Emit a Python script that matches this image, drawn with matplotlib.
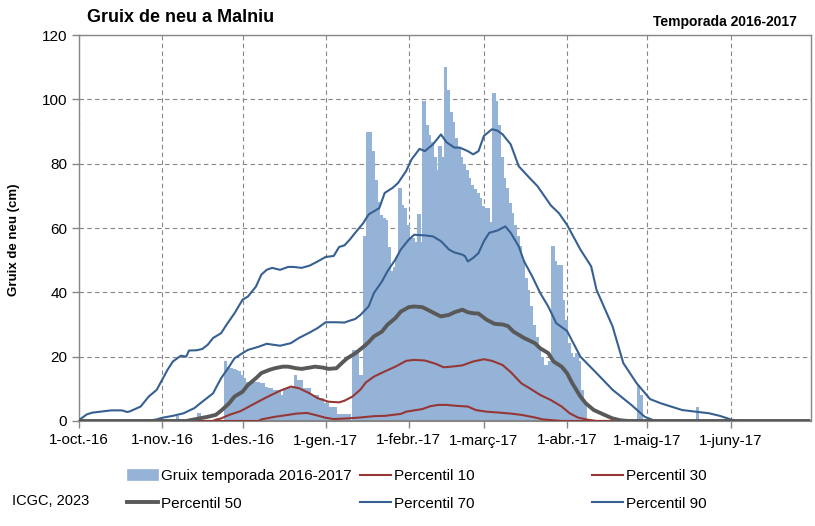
import numpy as np
import pandas as pd
import matplotlib
matplotlib.use('Agg')
import matplotlib.pyplot as plt

plt.rcParams['font.family'] = ['Liberation Sans', 'DejaVu Sans']

START = pd.Timestamp('2016-10-01')

# daily snow depth 2016-2017 (cm), consecutive days from 24 Nov 2016
snow_start = '2016-11-24'
snow_cm = [18.5, 16.9, 16.6, 16.2, 15.9, 15.4, 14.3, 13.3, 12.2, 12.2, 12.2, 12.2, 12.2, 11.7, 11.7,
           10.7, 10.4, 10.4, 9.7, 9.7, 9.7, 8.1, 10.3, 10.3, 10.3, 10.3, 14.3, 12.8, 12.8, 10.4,
           10.4, 10.4, 8.1, 8.1, 8.1, 7.2, 7.2, 5.6, 5.6, 4.5, 4.5, 4.5, 2.2, 2.2, 2.2, 2.2, 2.2, 0,
           22, 22, 14.3, 14.3, 57.5, 90, 90, 84, 75, 68, 64, 63, 62.6, 54, 46.5, 48, 51,
           72.5, 67.3, 66.3, 61, 57, 57, 55.5, 64.2, 55.5,
           99.5, 92, 89, 86.6, 82, 78, 85.5, 82,
           110, 103, 96, 93, 88, 85, 82, 80, 78, 75.6, 73.5, 72, 71, 69.4, 66.8, 66.3, 66.3, 62,
           102, 99.5, 92, 82, 75.6, 72.5, 67.8, 64.7, 61, 57.5, 54.3, 50.2, 44.5, 40.8, 35.6,
           30, 26, 23, 20, 17.4, 17.4, 18.5, 54.3, 49.6, 48.6, 48.6, 37.7, 31.5, 24.2, 21, 20, 21,
           18.5, 9.7, 5.5]
# isolated days outside the main snow period
extra_dates = ['2016-11-06', '2016-11-14', '2017-04-27', '2017-04-28', '2017-05-19']
extra_cm = [1.5, 2.5, 11.2, 8.1, 4.5]

# percentiles (day offset from 1 Oct, cm)
p90_days = [0, 3, 5, 9, 12, 16, 18, 19, 23, 26, 29, 31, 33, 35, 38, 40, 41, 44, 46, 48, 50, 53, 55,
            58, 61, 63, 66, 68, 70, 72, 75, 78, 80, 83, 86, 89, 92, 95, 97, 99, 101, 103, 106, 108,
            110, 112, 114, 117, 119, 122, 124, 127, 129, 132, 135, 137, 140, 142, 145, 147, 149,
            151, 154, 156, 158, 161, 164, 168, 171, 176, 179, 182, 187, 191, 193, 199, 203, 208,
            213, 217, 220, 225, 230, 235, 239, 243, 246, 272]
p90_cm = [0.3, 2.1, 2.6, 3.0, 3.3, 3.3, 2.8, 3.0, 4.5, 7.6, 9.7, 12.8, 15.9, 18.5, 20.3, 20.0, 21.9,
          22.0, 22.4, 23.7, 25.8, 27.3, 29.9, 33.5, 37.7, 38.7, 41.8, 45.5, 47.0, 47.6, 47.0, 47.9,
          47.9, 47.6, 48.3, 49.6, 51.0, 51.3, 54.1, 54.6, 56.4, 58.5, 61.5, 64.2, 65.2, 66.2, 70.9,
          72.5, 74.0, 77.7, 81.3, 84.6, 83.9, 86.0, 89.1, 86.7, 85.0, 85.0, 83.9, 82.9, 83.9, 88.6,
          90.7, 90.3, 89.1, 86.0, 79.2, 75.6, 73.0, 67.0, 64.6, 61.0, 53.3, 48.1, 40.8, 29.4, 18.0,
          11.7, 6.8, 5.5, 4.7, 3.4, 2.9, 2.4, 1.6, 0.5, 0, 0]
p70_days = [0, 25, 29, 31, 35, 39, 43, 46, 50, 51, 53, 56, 58, 61, 63, 67, 70, 75, 79, 82, 86, 89,
            92, 96, 99, 101, 103, 105, 108, 110, 113, 115, 118, 120, 123, 125, 129, 132, 135, 138,
            140, 143, 144, 145, 147, 149, 151, 153, 156, 159, 161, 164, 166, 169, 172, 175, 178,
            182, 187, 193, 199, 206, 211, 215, 272]
p70_cm = [0, 0, 0.5, 1.0, 1.6, 2.4, 4.0, 6.0, 8.6, 10.2, 13.3, 16.9, 19.5, 21.1, 22.1, 23.1, 24.0,
          23.4, 24.2, 25.8, 27.5, 28.9, 30.7, 30.7, 30.6, 31.2, 31.7, 33.0, 35.6, 39.8, 43.4, 46.5,
          50.2, 53.3, 56.4, 57.9, 57.7, 57.4, 55.9, 53.3, 52.4, 51.7, 51.2, 49.6, 50.7, 52.2, 55.9,
          58.5, 59.2, 60.5, 58.5, 54.3, 49.6, 45.0, 39.8, 35.6, 30.4, 28.0, 20.0, 14.9, 9.7, 5.0,
          1.3, 0, 0]
p50_days = [0, 40, 43, 48, 51, 53, 56, 58, 61, 63, 66, 68, 71, 73, 76, 78, 81, 83, 86, 88, 91, 93,
            96, 98, 100, 103, 106, 108, 110, 113, 115, 118, 120, 123, 125, 128, 130, 133, 135, 138,
            140, 143, 145, 147, 149, 152, 155, 158, 160, 162, 164, 166, 170, 172, 175, 177, 180,
            182, 184, 187, 189, 192, 196, 199, 202, 205, 272]
p50_cm = [0, 0, 0.5, 1.3, 1.9, 3.2, 5.5, 7.6, 9.1, 11.2, 13.3, 14.9, 15.9, 16.4, 16.9, 16.9, 16.4,
          16.2, 16.6, 16.9, 16.6, 16.2, 16.4, 18.0, 19.5, 21.0, 23.0, 24.5, 26.3, 27.8, 29.9, 32.0,
          34.0, 35.4, 35.6, 35.4, 34.6, 33.3, 32.5, 33.0, 33.8, 34.6, 33.8, 33.5, 33.4, 31.5, 30.2,
          30.0, 29.5, 27.8, 26.8, 25.8, 24.2, 22.6, 21.1, 18.5, 16.9, 14.9, 11.7, 7.6, 5.5, 3.4,
          1.9, 0.8, 0.2, 0, 0]
p30_days = [0, 50, 51, 53, 56, 60, 61, 65, 70, 75, 79, 82, 86, 89, 93, 97, 99, 102, 105, 107, 110,
            114, 118, 122, 125, 129, 133, 136, 139, 143, 147, 151, 154, 158, 161, 165, 168, 172,
            176, 180, 183, 186, 189, 193, 272]
p30_cm = [0, 0, 0.4, 0.8, 1.9, 3.0, 3.4, 5.2, 7.4, 9.4, 10.7, 10.2, 8.6, 7.1, 6.0, 5.8, 6.3, 7.6,
          9.8, 12.0, 13.8, 15.4, 16.9, 18.7, 19.0, 18.8, 17.8, 16.7, 16.9, 17.3, 18.5, 19.2, 18.7,
          17.4, 15.2, 11.7, 10.2, 8.1, 6.5, 4.5, 2.4, 1.1, 0.5, 0, 0]
p10_days = [0, 67, 68, 73, 78, 81, 85, 88, 92, 95, 100, 105, 110, 114, 120, 122, 128, 131, 134,
            137, 141, 145, 148, 152, 157, 161, 165, 170, 173, 177, 180, 272]
p10_cm = [0, 0, 0.5, 1.3, 1.9, 2.3, 2.5, 1.9, 1.0, 0.6, 0.8, 1.1, 1.5, 1.6, 2.2, 2.9, 3.7, 4.6,
          5.0, 5.0, 4.7, 4.5, 3.4, 2.9, 2.6, 2.3, 1.9, 1.1, 0.5, 0.2, 0, 0]

month_ticks = ['2016-10-01', '2016-11-01', '2016-12-01', '2017-01-01', '2017-02-01',
               '2017-03-01', '2017-04-01', '2017-05-01', '2017-06-01']
month_labels = ['1-oct.-16', '1-nov.-16', '1-des.-16', '1-gen.-17', '1-febr.-17',
                '1-març-17', '1-abr.-17', '1-maig-17', '1-juny-17']

BAR_C = '#95B3D7'
BLUE = '#376092'
RED = '#953735'
GREY = '#595959'
AXIS_C = '#868686'


def to_dates(days):
    return START + pd.to_timedelta(np.asarray(days), unit='D')


fig = plt.figure(figsize=(8.15, 5.26), dpi=100)
ax = fig.add_axes([79 / 815, 1 - 421 / 526, 732 / 815, 386 / 526])

bar_dates = list(pd.date_range(snow_start, periods=len(snow_cm), freq='D')) + list(pd.to_datetime(extra_dates))
bar_vals = list(snow_cm) + list(extra_cm)
bars = ax.bar(bar_dates, bar_vals, width=1.0, align='edge', color=BAR_C, edgecolor=BAR_C,
              linewidth=0.5, antialiased=False, label='Gruix temporada 2016-2017', zorder=2)

l10, = ax.plot(to_dates(p10_days), p10_cm, color=RED, lw=1.5, zorder=3, label='Percentil 10')
l30, = ax.plot(to_dates(p30_days), p30_cm, color=RED, lw=1.5, zorder=3, label='Percentil 30')
l50, = ax.plot(to_dates(p50_days), p50_cm, color=GREY, lw=2.8, zorder=4, label='Percentil 50')
l70, = ax.plot(to_dates(p70_days), p70_cm, color=BLUE, lw=1.5, zorder=3, label='Percentil 70')
l90, = ax.plot(to_dates(p90_days), p90_cm, color=BLUE, lw=1.5, zorder=3, label='Percentil 90')

ax.set_xlim(START, pd.Timestamp('2017-07-01'))
ax.set_ylim(0, 120)
ax.set_yticks(np.arange(0, 121, 20))
ax.set_xticks(pd.to_datetime(month_ticks))
ax.set_xticklabels(month_labels)
ax.tick_params(axis='both', labelsize=11, colors=AXIS_C, labelcolor='black', length=5, width=1)
ax.tick_params(axis='x', pad=4)
ax.set_axisbelow(True)
ax.grid(True, color=AXIS_C, linestyle=(0, (4, 3)), linewidth=0.8)
for s in ax.spines.values():
    s.set_color(AXIS_C)
    s.set_linewidth(1)
ax.spines['bottom'].set_linewidth(1.5)

fig.text(87 / 815, 1 - 18 / 526, 'Gruix de neu a Malniu', fontsize=13, fontweight='bold',
         ha='left', va='center')
fig.text(797 / 815, 1 - 22 / 526, 'Temporada 2016-2017', fontsize=10, fontweight='bold',
         ha='right', va='center')
fig.text(14 / 815, 1 - 240 / 526, 'Gruix de neu (cm)', fontsize=9.5, fontweight='bold',
         rotation=90, ha='center', va='center')
fig.text(12 / 815, 1 - 501 / 526, 'ICGC, 2023', fontsize=10.5, ha='left', va='center')

leg_kw = dict(loc='upper left', frameon=False, fontsize=11, handlelength=2.0, handletextpad=0.2,
              labelspacing=0.9, borderpad=0, borderaxespad=0)
fig.legend([bars, l50], ['Gruix temporada 2016-2017', 'Percentil 50'],
           bbox_to_anchor=(127 / 815, 1 - 469 / 526), **leg_kw)
fig.legend([l10, l70], ['Percentil 10', 'Percentil 70'],
           bbox_to_anchor=(360 / 815, 1 - 469 / 526), **leg_kw)
fig.legend([l30, l90], ['Percentil 30', 'Percentil 90'],
           bbox_to_anchor=(592 / 815, 1 - 469 / 526), **leg_kw)

fig.savefig('out.png', dpi=100)
